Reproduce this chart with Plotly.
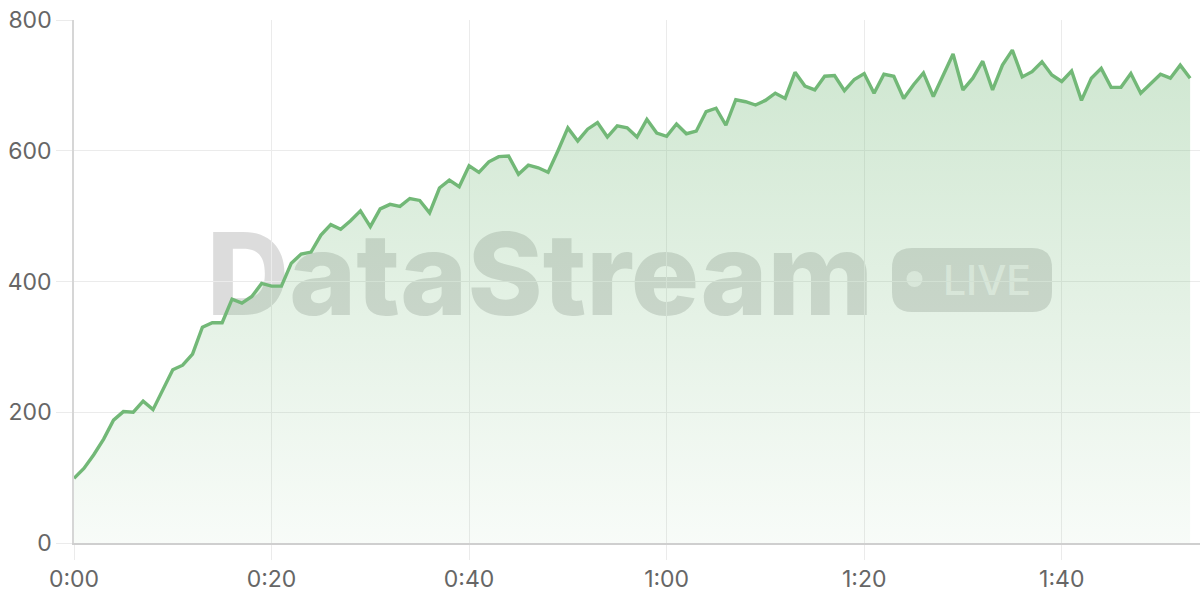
import plotly.graph_objects as go

# elapsed seconds and the streamed values
seconds = list(range(114))
values = [
    99, 114, 135, 159, 188, 201, 200, 217, 204, 235,
    265, 272, 289, 330, 337, 337, 373, 367, 377, 397,
    393, 393, 428, 442, 445, 471, 487, 480, 493, 508,
    484, 511, 518, 515, 527, 524, 505, 543, 555, 545,
    577, 567, 583, 591, 592, 564, 578, 574, 567, 600,
    635, 615, 633, 643, 621, 638, 635, 621, 648, 627,
    622, 641, 626, 630, 660, 665, 639, 678, 675, 670,
    677, 688, 680, 720, 699, 693, 714, 715, 692, 709,
    718, 688, 717, 714, 680, 701, 719, 683, 716, 748,
    693, 711, 737, 693, 731, 754, 713, 721, 736, 716,
    706, 722, 677, 711, 726, 697, 697, 718, 688, 703,
    717, 711, 731, 711,
]
tick_vals = [0, 20, 40, 60, 80, 100]
tick_text = ["0:00", "0:20", "0:40", "1:00", "1:20", "1:40"]
y_ticks = [0, 200, 400, 600, 800]

GREEN = "rgb(114,184,119)"
GRID = "#ebebeb"

# plot area in pixels: left 74, right 1200, top 20, bottom 543
L, R, T, B = 74, 1200, 20, 543


def px(x):
    return (x - L) / (R - L)


def py(y):
    return (B - y) / (B - T)


def rounded_rect(x0, y0, x1, y1, r):
    rx, ry = r / (R - L), r / (B - T)
    a, b, c, d = px(x0), py(y1), px(x1), py(y0)
    return (f"M {a+rx},{b} L {c-rx},{b} Q {c},{b} {c},{b+ry} "
            f"L {c},{d-ry} Q {c},{d} {c-rx},{d} L {a+rx},{d} "
            f"Q {a},{d} {a},{d-ry} L {a},{b+ry} Q {a},{b} {a+rx},{b} Z")


fig = go.Figure()
fig.add_trace(go.Scatter(
    x=seconds, y=values, mode="lines",
    line=dict(color=GREEN, width=3.4),
    fill="tozeroy",
    fillgradient=dict(
        type="vertical", start=0, stop=800,
        colorscale=[[0, "rgba(114,184,119,0.05)"], [1, "rgba(114,184,119,0.36)"]],
    ),
    hoverinfo="skip",
))

# watermark, kept under the grid and the series
WM = "rgba(95,95,95,0.22)"
LIVE_C = "rgba(255,255,255,0.65)"
fig.add_shape(type="rect", xref="paper", yref="paper",
              x0=px(200), x1=px(880), y0=py(318), y1=py(220),
              line=dict(width=0), fillcolor="rgba(0,0,0,0)", layer="below",
              label=dict(text="DataStream", textposition="middle center",
                         font=dict(family="Inter", size=114, weight=800, color=WM)))
fig.add_shape(type="path", xref="paper", yref="paper",
              path=rounded_rect(892, 248, 1052, 312, 20),
              line=dict(width=0), fillcolor=WM, layer="below")
fig.add_shape(type="circle", xref="paper", yref="paper",
              x0=px(906.5), x1=px(922.5), y0=py(287), y1=py(271),
              line=dict(width=0), fillcolor=LIVE_C, layer="below")
fig.add_shape(type="rect", xref="paper", yref="paper",
              x0=px(934), x1=px(1040), y0=py(300), y1=py(258),
              line=dict(width=0), fillcolor="rgba(0,0,0,0)", layer="below",
              label=dict(text="LIVE", textposition="middle center",
                         font=dict(family="Inter", size=41, weight=500, color=LIVE_C)))

fig.update_layout(
    width=1200, height=600,
    margin=dict(l=L, r=1200 - R, t=T, b=600 - B),
    plot_bgcolor="white", paper_bgcolor="white",
    showlegend=False,
    font=dict(family="Inter", size=23, color="#666666"),
    xaxis=dict(
        range=[0, 114], tickvals=tick_vals, ticktext=tick_text,
        showgrid=True, gridcolor=GRID, gridwidth=1,
        ticks="outside", ticklen=15, tickcolor=GRID, tickwidth=1,
        showline=True, linecolor="#cfcfcf", linewidth=1.5,
        zeroline=False, fixedrange=True,
    ),
    yaxis=dict(
        range=[0, 800], tickvals=y_ticks,
        showgrid=True, gridcolor=GRID, gridwidth=1,
        ticks="outside", ticklen=16, tickcolor=GRID, tickwidth=1,
        showline=True, linecolor="#d6d6d6", linewidth=1.5,
        zeroline=False, fixedrange=True,
    ),
)

fig.write_html("out.html", config={"displayModeBar": False},
               post_script="document.body.style.margin='0';")
